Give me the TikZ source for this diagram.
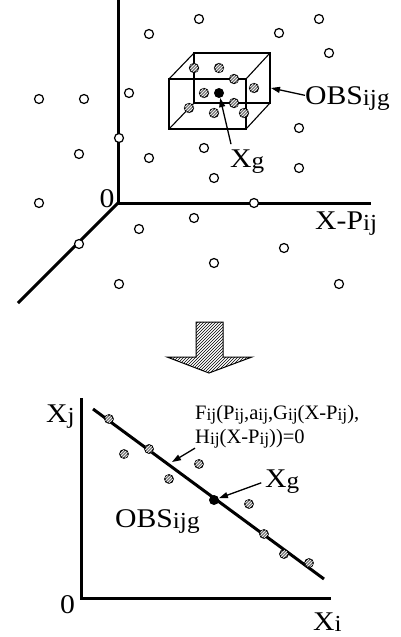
\documentclass[tikz,border=0pt]{standalone}
\usepackage{fontspec}
\setmainfont{Liberation Serif}
\newfontfamily\lblfont[FakeStretch=1.1]{Liberation Serif}
\usepackage{graphicx}
\usepackage{tikz}
\usetikzlibrary{arrows.meta, patterns}
\newcommand\sbs[1]{\raisebox{-0.06em}{\scalebox{0.85}{#1}}}
\tikzset{
  axisln/.style={line width=3pt, line join=miter},
  wire/.style={line width=1.1pt},
  odot/.style={circle, draw, fill=white, line width=1.2pt, inner sep=0pt, minimum size=9pt},
  hdot/.style={odot, fill=black!50, postaction={pattern=north east lines, pattern color=white}},
  gdot/.style={circle, fill=black, inner sep=0pt, minimum size=10pt},
  ptr/.style={-{Triangle[length=9pt,width=6pt]}, line width=1.3pt},
  lbl/.style={font=\lblfont\fontsize{27}{30}\selectfont, inner sep=0pt},
  fml/.style={font=\fontsize{20.5}{24}\selectfont, inner sep=0pt},
  blkarr/.style={draw, line width=1pt, fill=white, postaction={pattern=north east lines}},
}
\begin{document}
\begin{tikzpicture}[x=1pt, y=-1pt]
  \useasboundingbox (0,0) rectangle (400,637);
  % upper part: space of X-Pij
  \coordinate (o) at (118,203);
  \draw[axisln] (118,0) -- (o) -- (371,203);
  \draw[axisln] (o) -- (18,303);
  \foreach \p [count=\i] in {(199,19),(319,19),(149,34),(279,33),(329,53),(39,99),(84,99),
      (129,93),(299,128),(119,138),(79,154),(149,158),(204,148),(299,168),(214,178),
      (39,203),(254,203),(194,218),(139,229),(284,248),(79,244),(214,263),(119,284),(339,284)}
    \node[odot] (p\i) at \p {};
  % the box OBSijg
  \coordinate (f1) at (169,79);  \coordinate (f2) at (246,79);
  \coordinate (f3) at (246,129); \coordinate (f4) at (169,129);
  \coordinate (b1) at (194,53);  \coordinate (b2) at (270,53);
  \coordinate (b3) at (270,103); \coordinate (b4) at (194,103);
  \draw[wire] (f1) -- (f2) -- (f3) -- (f4) -- cycle;
  \draw[wire] (b1) -- (b2) -- (b3) -- (b4) -- cycle;
  \draw[wire] (f1) -- (b1) (f2) -- (b2) (f3) -- (b3) (f4) -- (b4);
  \foreach \p [count=\i] in {(194,68),(219,68),(234,79),(254,88),(204,93),(234,103),
      (189,108),(214,113),(244,113)}
    \node[hdot] (h\i) at \p {};
  \node[gdot] (dotT) at (219,93) {};
  \node[lbl, anchor=base] (zeroT) at (107,207) {0};
  \node[lbl, anchor=base west] (axT) at (315,229) {X-P\sbs{ij}};
  \node[lbl, anchor=base west] (obsT) at (305,104) {OBS\sbs{ijg}};
  \node[lbl, anchor=base west] (xgT) at (230,167) {X\sbs{g}};
  \coordinate (boxE) at (271,88);
  \draw[ptr] ([yshift=3pt]obsT.west) -- (boxE);
  \draw[ptr] ([xshift=1pt,yshift=5pt]xgT.north west) -- (dotT);
  % block arrow
  \draw[blkarr] (196,322) -- (223,322) -- (223,357) -- (252,357) -- (209,373)
    -- (167,357) -- (196,357) -- cycle;
  % lower part: plane Xi-Xj
  \draw[axisln] (81,398) -- (81,598) -- (331,598);
  \coordinate (fitA) at (93,409);
  \coordinate (fitB) at (324,579);
  \draw[axisln] (fitA) -- (fitB);
  \foreach \p [count=\i] in {(109,419),(124,454),(149,449),(169,479),(199,464),
      (249,504),(264,534),(284,554),(309,563)}
    \node[hdot, minimum size=8.5pt] (q\i) at \p {};
  \node[gdot] (dotB) at (214,500) {};
  \node[lbl, anchor=base west] (xjB) at (46,422) {X\sbs{j}};
  \node[lbl, anchor=base west] (zeroB) at (60,613) {0};
  \node[lbl, anchor=base west] (xiB) at (313,630) {X\sbs{i}};
  \node[lbl, anchor=base west] (xgB) at (265,487) {X\sbs{g}};
  \node[lbl, anchor=base west] (obsB) at (115,527) {OBS\sbs{ijg}};
  \node[fml, anchor=base west] (fml1) at (195,419)
    {F\sbs{ij}(P\sbs{ij},a\sbs{ij},G\sbs{ij}(X-P\sbs{ij}),};
  \node[fml, anchor=base west] (fml2) at (195,443) {H\sbs{ij}(X-P\sbs{ij}))=0};
  \coordinate (fitpt) at (172,462);
  \draw[ptr] (fml2.south west) -- (fitpt);
  \draw[ptr, shorten <=4pt] (xgB.west) -- (dotB);
\end{tikzpicture}
\end{document}
